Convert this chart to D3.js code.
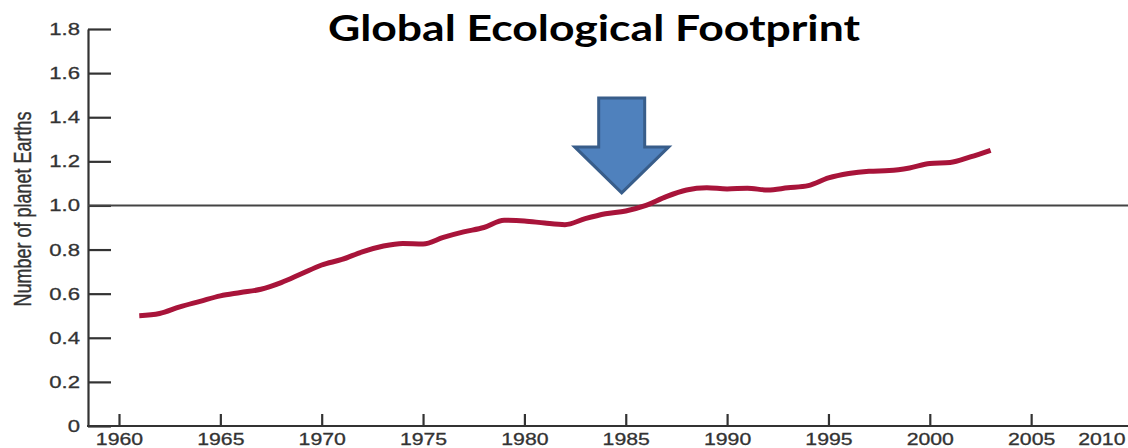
<!DOCTYPE html>
<html>
<head>
<meta charset="utf-8">
<script src="https://cdn.jsdelivr.net/npm/d3@7"></script>
<style>
  html, body { margin: 0; padding: 0; background: #fff; }
  svg { display: block; }
</style>
</head>
<body>
<svg id="chart" width="1128" height="448"></svg>
<script>
// Global ecological footprint, in number of planet Earths, 1961-2003
const years = [
  1961, 1962, 1963, 1964, 1965, 1966, 1967, 1968, 1969, 1970,
  1971, 1972, 1973, 1974, 1975, 1976, 1977, 1978, 1979, 1980,
  1981, 1982, 1983, 1984, 1985, 1986, 1987, 1988, 1989, 1990,
  1991, 1992, 1993, 1994, 1995, 1996, 1997, 1998, 1999, 2000,
  2001, 2002, 2003
];
const earths = [
  0.50, 0.51, 0.54, 0.565, 0.59, 0.605, 0.62, 0.65, 0.69, 0.73,
  0.755, 0.79, 0.815, 0.828, 0.825, 0.855, 0.88, 0.90, 0.933, 0.93,
  0.92, 0.913, 0.94, 0.962, 0.975, 1.00, 1.04, 1.07, 1.08, 1.075,
  1.078, 1.07, 1.08, 1.09, 1.125, 1.145, 1.155, 1.158, 1.17, 1.19,
  1.195, 1.22, 1.25
];
const xTickYears = [1960, 1965, 1970, 1975, 1980, 1985, 1990, 1995, 2000, 2005, 2010];
const yTickValues = [0, 0.2, 0.4, 0.6, 0.8, 1.0, 1.2, 1.4, 1.6, 1.8];
const capacityLine = 1.0;           // one planet Earth
const arrowTarget = { year: 1984.8, value: 1.05 };
const titleText = "Global Ecological Footprint";
const yTitle = "Number of planet Earths";

const W = 1128, H = 448;
const axisX = 88;
const svg = d3.select("#chart");

const x = d3.scaleLinear().domain([1960, 2010]).range([119, 1132.5]);
const y = d3.scaleLinear().domain([0, 1.8]).range([426, 29]);

const ink = "#333";
const labelFont = "'Liberation Sans', Arial, sans-serif";

// widen glyphs horizontally
function stretch(sel, k) {
  sel.each(function () {
    const len = this.getComputedTextLength();
    d3.select(this).attr("textLength", len * k).attr("lengthAdjust", "spacingAndGlyphs");
  });
}

// y axis
const yAxis = d3.axisLeft(y)
  .tickValues(yTickValues)
  .tickFormat(d => d === 0 ? "0" : d3.format(".1f")(d))
  .tickSizeInner(-23)
  .tickSizeOuter(0)
  .tickPadding(8);
const gy = svg.append("g").attr("transform", `translate(${axisX},0)`).call(yAxis);
gy.select(".domain").attr("stroke", ink).attr("stroke-width", 2.2);
gy.selectAll(".tick line").attr("stroke", ink).attr("stroke-width", 2.2);
gy.selectAll(".tick text")
  .attr("fill", ink)
  .attr("stroke", ink).attr("stroke-width", 0.3)
  .style("font-family", labelFont)
  .style("font-size", "17px")
  .call(stretch, 1.3);

// x axis
const xAxis = d3.axisBottom(x)
  .tickValues(xTickYears)
  .tickFormat(d3.format("d"))
  .tickSizeInner(-12)
  .tickSizeOuter(0)
  .tickPadding(7);
const gx = svg.append("g").attr("transform", `translate(0,${y(0)})`).call(xAxis);
gx.select(".domain").remove();
gx.selectAll(".tick line").attr("stroke", ink).attr("stroke-width", 2.2);
gx.selectAll(".tick text")
  .attr("fill", ink)
  .attr("stroke", ink).attr("stroke-width", 0.3)
  .style("font-family", labelFont)
  .style("font-size", "17px")
  .call(stretch, 1.25);
// keep the last year label inside the frame
gx.selectAll(".tick").filter(d => d === 2010).select("text")
  .attr("text-anchor", "end")
  .attr("x", (W - 3) - x(2010));

// x baseline
svg.append("line")
  .attr("x1", axisX - 1).attr("x2", W)
  .attr("y1", y(0)).attr("y2", y(0))
  .attr("stroke", ink).attr("stroke-width", 2.2);

// one-Earth reference line
svg.append("line")
  .attr("x1", axisX).attr("x2", W)
  .attr("y1", y(capacityLine)).attr("y2", y(capacityLine))
  .attr("stroke", "#444").attr("stroke-width", 2);

// y title
svg.append("text")
  .attr("transform", `translate(31,209) scale(1.3,1) rotate(-90)`)
  .attr("text-anchor", "middle")
  .attr("fill", ink)
  .attr("stroke", ink).attr("stroke-width", 0.3)
  .style("font-family", labelFont)
  .style("font-size", "18px")
  .attr("textLength", 195)
  .attr("lengthAdjust", "spacingAndGlyphs")
  .text(yTitle);

// footprint series
const series = years.map((yr, i) => ({ year: yr, value: earths[i] }));
svg.append("path")
  .datum(series)
  .attr("fill", "none")
  .attr("stroke", "#A8143A")
  .attr("stroke-width", 5)
  .attr("stroke-linejoin", "round")
  .attr("stroke-linecap", "butt")
  .attr("d", d3.line().x(d => x(d.year)).y(d => y(d.value)).curve(d3.curveMonotoneX));

// downward arrow marking the overshoot point
const tipX = x(arrowTarget.year), tipY = y(arrowTarget.value);
const arrowPts = [
  [-23, -96.5], [23, -96.5], [23, -47.5], [47, -47.5], [0, -1.5], [-47, -47.5], [-23, -47.5]
];
svg.append("polygon")
  .attr("points", arrowPts.map(p => [tipX + p[0], tipY + p[1]].join(",")).join(" "))
  .attr("fill", "#4F81BD")
  .attr("stroke", "#385D8A")
  .attr("stroke-width", 3)
  .attr("stroke-linejoin", "miter");

// title
svg.append("text")
  .attr("x", 594).attr("y", 41)
  .attr("text-anchor", "middle")
  .attr("fill", "#000")
  .style("font-family", "Lato, 'Open Sans', sans-serif")
  .style("font-weight", 700)
  .style("font-size", "36px")
  .attr("textLength", 532)
  .attr("lengthAdjust", "spacingAndGlyphs")
  .text(titleText);
</script>
</body>
</html>
